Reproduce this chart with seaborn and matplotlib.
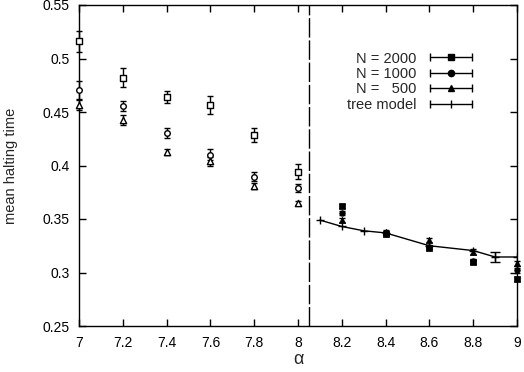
import matplotlib
matplotlib.use("Agg")
import matplotlib.pyplot as plt
import seaborn as sns
import pandas as pd
from matplotlib.lines import Line2D
from matplotlib.legend_handler import HandlerLine2D

# left of the transition (open symbols)
alpha_lo = [7.0, 7.2, 7.4, 7.6, 7.8, 8.0]
n2000_lo = [0.516, 0.482, 0.464, 0.4565, 0.4285, 0.394]
e2000_lo = [0.010, 0.009, 0.006, 0.008, 0.007, 0.007]
n1000_lo = [0.4706, 0.4556, 0.4304, 0.410, 0.3895, 0.379]
e1000_lo = [0.008, 0.005, 0.005, 0.005, 0.004, 0.004]
n500_lo = [0.4565, 0.4425, 0.4126, 0.404, 0.381, 0.365]
e500_lo = [0.005, 0.005, 0.003, 0.004, 0.003, 0.002]

# right of the transition (filled symbols)
alpha_hi = [8.2, 8.4, 8.6, 8.8, 9.0]
n2000_hi = [0.362, 0.336, 0.323, 0.310, 0.294]
n1000_hi = [0.3555, 0.337, 0.324, 0.311, 0.302]
n500_hi = [0.349, 0.338, 0.3305, 0.3195, 0.3085]
e_hi = [0.002, 0.002, 0.002, 0.002, 0.002]

alpha_tree = [8.1, 8.2, 8.3, 8.4, 8.6, 8.8, 8.9, 9.0]
tree = [0.349, 0.343, 0.339, 0.337, 0.325, 0.3205, 0.3145, 0.3145]
e_tree = [0.001, 0.001, 0.001, 0.002, 0.001, 0.001, 0.0047, 0.001]

alpha_c = 8.05

sns.set_style("ticks")
plt.rcParams["font.family"] = ["Liberation Sans", "DejaVu Sans"]
plt.rcParams["xtick.direction"] = "in"
plt.rcParams["ytick.direction"] = "in"

fig = plt.figure(figsize=(5.24, 3.72), dpi=100)
ax = fig.add_axes([79 / 524, 1 - 326 / 372, 438 / 524, 321 / 372])

k = "black"
series = [
    ("N = 2000", "s", 4.5, n2000_lo, e2000_lo, n2000_hi),
    ("N = 1000", "o", 4.0, n1000_lo, e1000_lo, n1000_hi),
    ("N =   500", "^", 4.5, n500_lo, e500_lo, n500_hi),
]
for lab, m, ms, lo, elo, hi in series:
    ax.errorbar(alpha_lo, lo, yerr=elo, fmt="none", ecolor=k, elinewidth=1,
                capsize=2.5, capthick=1, clip_on=False)
    sns.scatterplot(x=alpha_lo, y=lo, marker=m, s=ms**2, facecolor="white",
                    edgecolor=k, linewidth=1, ax=ax, zorder=3, clip_on=False)
    ax.errorbar(alpha_hi, hi, yerr=e_hi, fmt="none", ecolor=k, elinewidth=1,
                capsize=2.5, capthick=1, clip_on=False)
    sns.scatterplot(x=alpha_hi, y=hi, marker=m, s=ms**2, color=k, edgecolor=k,
                    linewidth=0.5, ax=ax, zorder=3, clip_on=False)

df_tree = pd.DataFrame({"alpha": alpha_tree, "t": tree, "e": e_tree})
sns.lineplot(data=df_tree, x="alpha", y="t", color=k, lw=1, marker="+", ms=6,
             markeredgewidth=1, markeredgecolor=k, ax=ax, zorder=2)
big = df_tree[df_tree["e"] > 0.002]
ax.errorbar(big["alpha"], big["t"], yerr=big["e"], fmt="none", ecolor=k,
            elinewidth=1, capsize=3.5, capthick=1)

ax.axvline(alpha_c, color=k, lw=1, dashes=(14, 2))

ax.set_xlim(7, 9)
ax.set_ylim(0.25, 0.55)
ax.set_xticks([7, 7.2, 7.4, 7.6, 7.8, 8, 8.2, 8.4, 8.6, 8.8, 9])
ax.set_xticklabels(["7", "7.2", "7.4", "7.6", "7.8", "8", "8.2", "8.4", "8.6", "8.8", "9"])
ax.set_yticks([0.25, 0.3, 0.35, 0.4, 0.45, 0.5, 0.55])
ax.set_yticklabels(["0.25", "0.3", "0.35", "0.4", "0.45", "0.5", "0.55"])
ax.tick_params(which="both", top=True, right=True, length=5, width=1,
               labelsize=10, colors=k)
ax.tick_params(axis="x", pad=7)
ax.tick_params(axis="y", pad=6.5)
for sp in ax.spines.values():
    sp.set_linewidth(1)
    sp.set_color(k)
ax.set_xlabel("α", fontsize=13, labelpad=1)
ax.set_ylabel("mean halting time", fontsize=10.5, labelpad=18)

# legend in gnuplot style: |--marker--|
handles, hmap = [], {}
for lab, m, ms, _, _, _ in series:
    cap = Line2D([], [], color=k, lw=1, marker="|", ms=6, mew=1)
    mk = Line2D([], [], ls="none", marker=m, ms=ms + 0.5, color=k)
    hmap[cap] = HandlerLine2D(numpoints=2, marker_pad=0)
    hmap[mk] = HandlerLine2D(numpoints=1)
    handles.append((cap, mk))
cap = Line2D([], [], color=k, lw=1, marker="|", ms=6, mew=1)
mk = Line2D([], [], ls="none", marker="|", ms=6, mew=1, color=k)
hmap[cap] = HandlerLine2D(numpoints=2, marker_pad=0)
hmap[mk] = HandlerLine2D(numpoints=1)
handles.append((cap, mk))
labels = [s[0] for s in series] + ["tree model"]
ax.legend(handles, labels, handler_map=hmap, loc="upper right",
          bbox_to_anchor=(0.897, 0.855), frameon=False, markerfirst=False,
          fontsize=10.5, handlelength=2.9, labelspacing=0.1,
          handletextpad=0.9, borderpad=0, borderaxespad=0)

fig.savefig("out.png", dpi=100)
